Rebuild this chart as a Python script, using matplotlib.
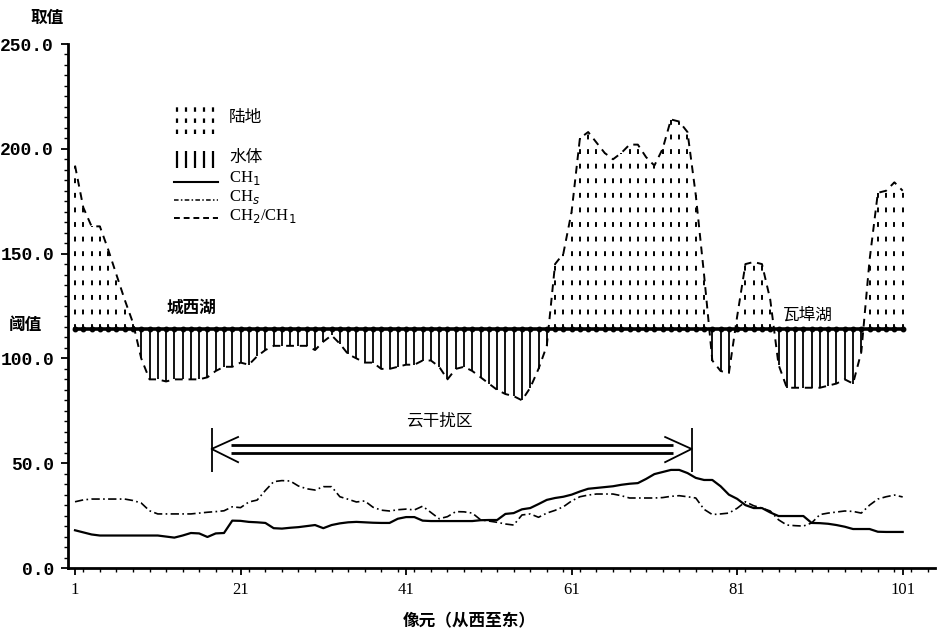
import numpy as np
import matplotlib
matplotlib.use("Agg")
import matplotlib.pyplot as plt
from matplotlib.ticker import MultipleLocator

plt.rcParams['font.family'] = ['Noto Sans CJK SC', 'DejaVu Sans']

# pixel index along the transect (west -> east)
pixels = np.arange(1, 102)

# CH2/CH1 ratio
ratio = [192, 172, 163, 163, 152, 140, 128, 117, 100, 90,
         90, 89, 90, 90, 90, 90, 91, 94, 96, 96,
         98, 97, 101, 104, 106, 106, 106, 106, 106, 104,
         108, 111, 107, 102, 100, 98, 98, 95, 95, 96,
         97, 97, 99, 99, 96, 90, 95, 96, 94, 91,
         88, 85, 83, 82, 80, 86, 95, 106, 145, 150,
         170, 205, 208, 203, 198, 195, 198, 202, 202, 196,
         192, 200, 214, 213, 208, 178, 140, 99, 94, 93,
         120, 145, 146, 145, 128, 97, 86, 86, 86, 86,
         86, 87, 88, 90, 88, 103, 147, 179, 180, 184, 180]

# channel 1
ch1 = [18, 17, 16, 15.5, 15.5, 15.5, 15.5, 15.5, 15.5, 15.5,
       15.5, 15, 14.5, 15.5, 16.7, 16.5, 14.8, 16.5, 16.7, 22.6,
       22.5, 22, 21.8, 21.5, 19, 18.8, 19.2, 19.5, 20, 20.5,
       19, 20.5, 21.3, 21.8, 22, 21.8, 21.6, 21.5, 21.5, 23.5,
       24.3, 24.3, 22.6, 22.4, 22.4, 22.4, 22.4, 22.4, 22.4, 22.8,
       22.9, 22.9, 25.8, 26.2, 28, 28.6, 30.5, 32.5, 33.4, 34,
       35, 36.5, 37.8, 38.2, 38.6, 39, 39.7, 40.2, 40.5, 42.5,
       44.8, 45.8, 46.8, 46.8, 45.3, 43, 42, 42, 39, 35,
       33, 30, 28.6, 28.6, 26.5, 24.8, 24.8, 24.8, 24.8, 21.5,
       21.4, 21.1, 20.5, 19.7, 18.6, 18.6, 18.6, 17.3, 17.2, 17.2, 17.2]

# channel s
chs = [31.6, 32.5, 32.9, 32.9, 32.9, 32.9, 32.9, 32.2, 31, 27.3,
       25.8, 25.8, 25.8, 25.8, 25.8, 26.2, 26.6, 26.9, 27.3, 29.2,
       28.8, 31.5, 32.4, 37, 41.2, 41.7, 41.5, 39.1, 37.8, 37.2,
       38.8, 38.8, 34, 32.8, 31.5, 32, 29, 27.6, 27.2, 27.8,
       28.1, 27.7, 29.5, 26.5, 23.5, 24.5, 26.9, 26.8, 26.2, 23,
       22.4, 21.8, 21, 20.5, 25.3, 25.8, 24.2, 26.2, 27.5, 29.2,
       32, 34, 34.8, 35.3, 35.3, 35.3, 34.5, 33.4, 33.4, 33.4,
       33.4, 33.6, 34.2, 34.5, 34, 33.4, 28, 25.5, 25.8, 26.2,
       28.5, 31.6, 29.7, 28.6, 27.2, 23, 20.5, 20.2, 20, 21.5,
       25.5, 26.2, 26.7, 27.2, 27, 26.2, 30, 32.9, 34, 34.8, 33.9]

threshold = 114
cloud_start, cloud_end = 17.5, 75.5
y_ticks = [0, 50, 100, 150, 200, 250]
y_ticklabels = ["0.0", "50.0", "100.0", "150.0", "200.0", "250.0"]
x_ticks = [1, 21, 41, 61, 81, 101]

ratio = np.array(ratio, dtype=float)

fig = plt.figure(figsize=(9.39, 6.35), dpi=100)
ax = fig.add_axes([0.0724, 0.1055, 0.9233, 0.8252])

# land / water hatching between threshold and ratio curve
land = ratio > threshold
water = ~land
ax.vlines(pixels[land], threshold, ratio[land], colors='black',
          linestyles=(0, (2.5, 5)), linewidth=1.4)
ax.vlines(pixels[water], ratio[water], threshold, colors='black',
          linestyles='solid', linewidth=1.3)

ax.plot(pixels, ratio, color='black', linestyle=(0, (4, 3)), linewidth=1.4)
ax.plot(pixels, np.full(len(pixels), threshold), color='black', linewidth=2.6,
        marker='o', markersize=3.2)

ax.plot(pixels, ch1, color='black', linewidth=1.6)
ax.plot(pixels, chs, color='black', linewidth=1.2, linestyle=(0, (5, 2, 1, 2)))

# cloud interference zone
ax.vlines([cloud_start, cloud_end], 46, 67, colors='black', linewidth=1.3)
ax.hlines([58.6, 55.0], cloud_start + 2.4, cloud_end - 2.3, colors='black', linewidth=2.0)
for tip, sign in ((cloud_start, 1), (cloud_end, -1)):
    ax.plot([tip + sign * 3.2, tip, tip + sign * 3.2], [62.5, 56.8, 50.5],
            color='black', linewidth=1.3)
ax.text((cloud_start + cloud_end) / 2 - 1.5, 66, "云干扰区", fontsize=12,
        ha='center', va='bottom')

ax.text(12, 120, "城西湖", fontsize=12, fontweight='bold', ha='left', va='bottom')
ax.text(89.5, 116.5, "瓦埠湖", fontsize=12, ha='center', va='bottom')

# legend drawn by hand
lx = [13.3, 14.4, 15.5, 16.6, 17.7]
ax.vlines(lx, 207, 223, colors='black', linestyles=(0, (2, 3)), linewidth=1.6)
ax.text(19.6, 215, "陆地", fontsize=12, va='center')
ax.vlines(lx, 191, 199, colors='black', linewidth=1.6)
ax.text(19.6, 196, "水体", fontsize=12, va='center')
ax.plot([13, 18.3], [184, 184], color='black', linewidth=1.5)
ax.plot([13, 18.3], [175.5, 175.5], color='black', linewidth=1.1, linestyle=(0, (3, 1.5, 1, 1.5)))
ax.plot([13, 18.3], [167, 167], color='black', linewidth=1.4, linestyle=(0, (3, 2)))
serif = ['Liberation Serif', 'DejaVu Serif']
ax.text(19.6, 186, r"CH$_1$", fontsize=12, va='center', family=serif)
ax.text(19.6, 177, r"CH$_s$", fontsize=12, va='center', family=serif)
ax.text(19.6, 168, r"CH$_2$/CH$_1$", fontsize=12, va='center', family=serif)

ax.set_xlim(0.15, 104.9)
ax.set_ylim(0, 250)
ax.spines['top'].set_visible(False)
ax.spines['right'].set_visible(False)
ax.spines['left'].set_linewidth(2)
ax.spines['bottom'].set_linewidth(2)

ax.set_yticks(y_ticks)
ax.set_yticklabels(y_ticklabels, family=['Liberation Mono', 'DejaVu Sans Mono'],
                   fontsize=13, fontweight='bold')
ax.yaxis.set_minor_locator(MultipleLocator(5))
ax.set_xticks(x_ticks)
ax.set_xticklabels([str(t) for t in x_ticks], family=serif, fontsize=12)
ax.xaxis.set_minor_locator(MultipleLocator(2))
ax.tick_params(axis='both', which='major', length=5, width=1.3, direction='out', pad=5)
ax.tick_params(axis='both', which='minor', length=3, width=1.0, direction='out')

fig.text(0.032, 0.972, "取值", fontsize=12, fontweight='bold', ha='left', va='center')
ax.text(-0.068, threshold + 2, "阈值", fontsize=12, fontweight='bold',
        ha='left', va='center', transform=ax.get_yaxis_transform())
fig.text(0.5, 0.022, "像元（从西至东）", fontsize=12, fontweight='bold',
         ha='center', va='center')

fig.savefig("out.png", dpi=100)
